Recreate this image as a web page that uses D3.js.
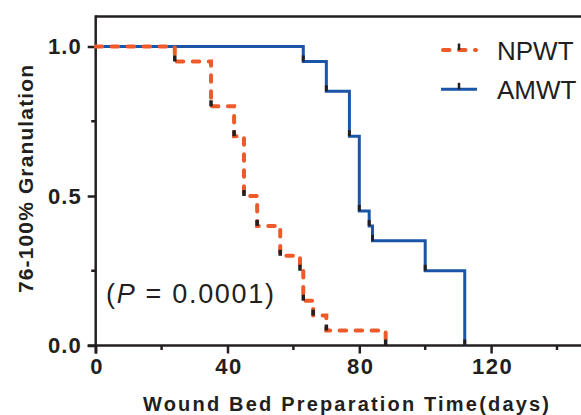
<!DOCTYPE html>
<html>
<head>
<meta charset="utf-8">
<script src="https://cdn.jsdelivr.net/npm/d3@7"></script>
<style>
  body { margin:0; background:#fff; }
  svg { display:block; font-family:"Liberation Sans", Arial, sans-serif; }
</style>
</head>
<body>
<div id="chart-area"></div>
<script>
const width = 581, height = 415;

// Kaplan-Meier style step data (days, fraction remaining after the step)
const npwtDays   = [0, 24, 35, 42, 45, 49, 56, 62, 63, 66, 70, 88];
const npwtValues = [1.0, 0.95, 0.80, 0.70, 0.50, 0.40, 0.30, 0.25, 0.15, 0.10, 0.05, 0.0];
const amwtDays   = [0, 63, 70, 77, 80, 83, 84, 100, 112];
const amwtValues = [1.0, 0.95, 0.85, 0.70, 0.45, 0.40, 0.35, 0.25, 0.0];

const xTicks = [0, 40, 80, 120];
const xMinor = [20, 60, 100, 140];
const yTicks = [0, 0.5, 1.0];
const yMinor = [0.25, 0.75];
const seriesNames = ["NPWT", "AMWT"];

const colors = {npwt:'#EF5A2A', amwt:'#1A55A7', ink:'#231F20'};

var svg = d3.select("#chart-area").append("svg")
    .attr("width", width)
    .attr("height", height);

var x = d3.scaleLinear().domain([0, 140]).range([95.7, 557]);
var y = d3.scaleLinear().domain([0, 1]).range([345.5, 46.5]);

var axisTop = 16.5;

// frame: top border + left axis + bottom axis
svg.append("line")
    .attr("x1", x(0)).attr("x2", width)
    .attr("y1", axisTop).attr("y2", axisTop)
    .attr("stroke", colors.ink).attr("stroke-width", 2.5);

svg.append("line")
    .attr("x1", x(0)).attr("x2", x(0))
    .attr("y1", axisTop - 1.2).attr("y2", y(0) + 8)
    .attr("stroke", colors.ink).attr("stroke-width", 2.5);

svg.append("line")
    .attr("x1", x(0) - 8).attr("x2", width)
    .attr("y1", y(0)).attr("y2", y(0))
    .attr("stroke", colors.ink).attr("stroke-width", 2.5);

// x ticks
var xAxis = svg.append("g")
    .attr("transform", "translate(0," + y(0) + ")")
    .call(d3.axisBottom(x).tickValues(xTicks).tickSize(8).tickPadding(5).tickFormat(d3.format("d")));
xAxis.select(".domain").remove();
xAxis.selectAll(".tick line").attr("stroke", colors.ink).attr("stroke-width", 2.5);
xAxis.selectAll(".tick text")
    .attr("fill", colors.ink)
    .style("font-size", "22px").style("font-weight", "bold")
    .style("letter-spacing", "1.5px")
    .attr("dx", "1px");

svg.selectAll(".xminor")
    .data(xMinor)
    .enter().append("line")
    .attr("x1", d => x(d)).attr("x2", d => x(d))
    .attr("y1", y(0)).attr("y2", y(0) + 4.5)
    .attr("stroke", colors.ink).attr("stroke-width", 2.5);

// y ticks
var yAxis = svg.append("g")
    .attr("transform", "translate(" + x(0) + ",0)")
    .call(d3.axisLeft(y).tickValues(yTicks).tickSize(8).tickPadding(6).tickFormat(d3.format(".1f")));
yAxis.select(".domain").remove();
yAxis.selectAll(".tick line").attr("stroke", colors.ink).attr("stroke-width", 2.5);
yAxis.selectAll(".tick text")
    .attr("fill", colors.ink)
    .style("font-size", "22px").style("font-weight", "bold")
    .style("letter-spacing", "1px");

svg.selectAll(".yminor")
    .data(yMinor)
    .enter().append("line")
    .attr("x1", x(0) - 4.5).attr("x2", x(0))
    .attr("y1", d => y(d)).attr("y2", d => y(d))
    .attr("stroke", colors.ink).attr("stroke-width", 2.5);

// axis titles
svg.append("text")
    .attr("x", 346).attr("y", 411)
    .attr("text-anchor", "middle")
    .attr("textLength", 406).attr("lengthAdjust", "spacing")
    .style("font-size", "20px").style("font-weight", "bold")
    .attr("fill", colors.ink)
    .text("Wound Bed Preparation Time(days)");

svg.append("text")
    .attr("transform", "translate(33,179) rotate(-90)")
    .attr("text-anchor", "middle")
    .attr("textLength", 228).attr("lengthAdjust", "spacing")
    .style("font-size", "21px").style("font-weight", "bold")
    .attr("fill", colors.ink)
    .text("76-100% Granulation");

// step lines
function stepPoints(days, vals) {
    var pts = [[days[0], vals[0]]];
    for (var i = 1; i < days.length; i++) {
        pts.push([days[i], vals[i-1]]);
        pts.push([days[i], vals[i]]);
    }
    return pts;
}

var line = d3.line().x(d => x(d[0])).y(d => y(d[1]));

var curves = svg.append("g");

curves.append("path")
    .attr("d", line(stepPoints(amwtDays, amwtValues)))
    .attr("fill", "none")
    .attr("stroke", colors.amwt)
    .attr("stroke-width", 3);

curves.append("path")
    .attr("d", line(stepPoints(npwtDays, npwtValues)))
    .attr("fill", "none")
    .attr("stroke", colors.npwt)
    .attr("stroke-width", 4)
    .attr("stroke-linecap", "round")
    .attr("stroke-dasharray", "6.5,9.5");

// black event marks at the foot of each drop
function marks(days, vals, w) {
    curves.append("g").selectAll("line")
        .data(days.slice(1).map((d, i) => [d, vals[i+1]]))
        .enter().append("line")
        .attr("x1", d => x(d[0])).attr("x2", d => x(d[0]))
        .attr("y1", d => y(d[1]) - 6).attr("y2", d => y(d[1]))
        .attr("stroke", colors.ink)
        .attr("stroke-width", w);
}
marks(amwtDays, amwtValues, 3);
marks(npwtDays, npwtValues, 3.5);

// legend
var legend = svg.append("g");
var legendY = [50, 89.3];

legend.append("line")
    .attr("x1", 443).attr("x2", 476).attr("y1", legendY[0]).attr("y2", legendY[0])
    .attr("stroke", colors.npwt).attr("stroke-width", 4)
    .attr("stroke-linecap", "round").attr("stroke-dasharray", "6.5,9.5");
legend.append("line")
    .attr("x1", 441).attr("x2", 477).attr("y1", legendY[1]).attr("y2", legendY[1])
    .attr("stroke", colors.amwt).attr("stroke-width", 3);

legend.selectAll(".lt")
    .data(legendY)
    .enter().append("line")
    .attr("x1", 459).attr("x2", 459)
    .attr("y1", d => d - 6.5).attr("y2", d => d)
    .attr("stroke", colors.ink).attr("stroke-width", 2.5);

legend.selectAll("text")
    .data(seriesNames)
    .enter().append("text")
    .attr("x", 497)
    .attr("y", (d, i) => legendY[i] + 9.8)
    .attr("fill", colors.ink)
    .style("font-size", "26px")
    .text(d => d);

// p-value annotation
var ptext = svg.append("text")
    .attr("x", 106).attr("y", 303)
    .attr("textLength", 168).attr("lengthAdjust", "spacing")
    .attr("fill", colors.ink)
    .style("font-size", "27px");
ptext.append("tspan").text("(");
ptext.append("tspan").style("font-style", "italic").text("P");
ptext.append("tspan").text(" = 0.0001)");
</script>
</body>
</html>
